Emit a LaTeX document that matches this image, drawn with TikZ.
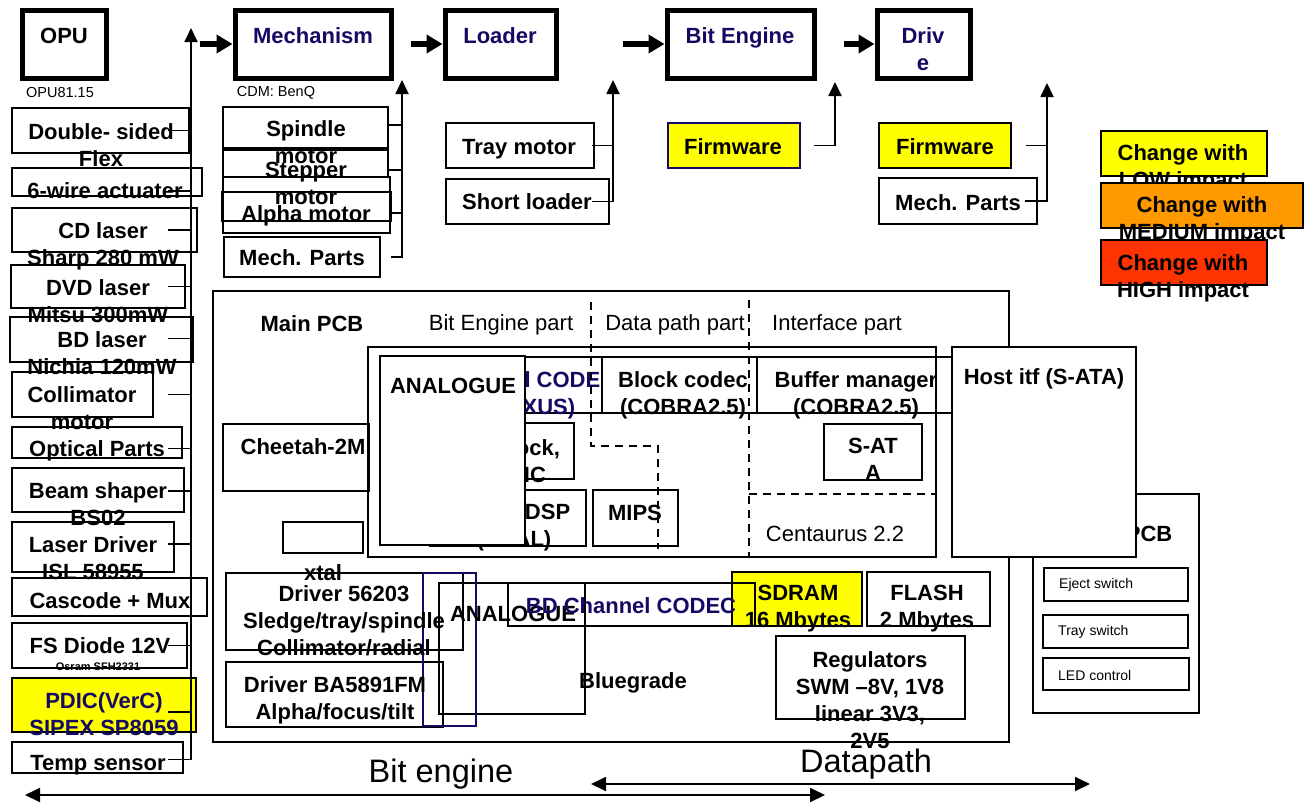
\documentclass[tikz,border=0pt]{standalone}
\usepackage{fontspec}
\setmainfont{Liberation Sans}
\usetikzlibrary{arrows.meta}
\usetikzlibrary{fit,calc}
\definecolor{navytxt}{RGB}{20,10,100}
\definecolor{lowimp}{RGB}{255,255,0}
\definecolor{medimp}{RGB}{255,153,0}
\definecolor{highimp}{RGB}{255,51,0}
\tikzstyle{box}=[draw, line width=1.8pt, inner sep=0pt]
\tikzstyle{heavybox}=[draw, line width=5pt, inner sep=0pt, fill=white]
\tikzstyle{lbl}=[anchor=north, inner sep=0pt, align=center, font=\fontsize{22}{27}\selectfont\bfseries, execute at begin node={\rule{0pt}{16pt}}]
\tikzstyle{reg}=[lbl, font=\fontsize{22}{27}\selectfont]
\tikzstyle{capt}=[inner sep=0pt, font=\fontsize{14.5}{17}\selectfont]
\tikzstyle{swlbl}=[anchor=west, inner sep=0pt, font=\fontsize{14}{17}\selectfont]
\tikzstyle{bigtxt}=[anchor=base, inner sep=0pt, font=\fontsize{32.5}{38}\selectfont]
\tikzstyle{stub}=[line width=1.8pt]
\tikzstyle{bus}=[line width=1.8pt, -{Triangle[length=14pt,width=13pt]}]
\tikzstyle{bigarrow}=[line width=6pt, -{Triangle[length=16pt,width=18pt]}]
\tikzstyle{spanarrow}=[line width=1.8pt, {Triangle[length=15pt,width=14pt]}-{Triangle[length=15pt,width=14pt]}]
\tikzstyle{partline}=[line width=1.8pt, dash pattern=on 8pt off 6pt]
\newcommand{\pbox}[4]{
	\node[#1, fit={#3 #4}] (#2) {};
}

\begin{document}
\begin{tikzpicture}[x=1pt, y=-1pt]
	\useasboundingbox (0,0) rectangle (1311,803);
	% top row
	\pbox{heavybox}{opu}{(22,10)}{(106,78)}
	\pbox{heavybox}{mech}{(235,10)}{(391,78)}
	\pbox{heavybox}{loader}{(445,10)}{(556,78)}
	\pbox{heavybox}{biteng}{(667,10)}{(814,78)}
	\pbox{heavybox}{drive}{(877,10)}{(970,78)}
	\node[lbl] (opu-t) at (64,27) {OPU};
	\node[lbl, text=navytxt] (mech-t) at (313,27) {Mechanism};
	\node[lbl, text=navytxt] (loader-t) at (500,27) {Loader};
	\node[lbl, text=navytxt] (biteng-t) at (740,27) {Bit Engine};
	\node[lbl, text=navytxt] (drive-t) at (923,27) {Driv\\e};
	\node[capt] (opu-c) at (60,93) {OPU81.15};
	\node[capt] (mech-c) at (276,93) {CDM: BenQ};
	\foreach \n/\d in {mech/33, loader/32, biteng/42, drive/31}
		\draw[bigarrow] ($(\n.west)+(-\d,0)$) -- (\n.west);
	\coordinate (opubus) at (191,28);
	\coordinate (mbus) at (402,80);
	\coordinate (lbus) at (613,80);
	\coordinate (bbus) at (835,82);
	\coordinate (dbus) at (1047,83);

	% OPU parts
	\pbox{box}{dsf}{(12,108)}{(189,153)}
	\node[lbl] (dsf-t) at (101,123) {Double- sided\\Flex};
	\pbox{box}{wire}{(12,168)}{(202,196)}
	\node[lbl] (wire-t) at (105,182) {6-wire actuater};
	\pbox{box}{cdl}{(12,208)}{(197,252)}
	\node[lbl] (cdl-t) at (103,222) {CD laser\\Sharp 280 mW};
	\pbox{box}{dvd}{(11,265)}{(185,308)}
	\node[lbl] (dvd-t) at (98,279) {DVD laser\\Mitsu 300mW};
	\pbox{box}{bdl}{(10,317)}{(193,362)}
	\node[lbl] (bdl-t) at (102,331) {BD laser\\Nichia 120mW};
	\pbox{box}{colm}{(12,372)}{(153,417)}
	\node[lbl] (colm-t) at (82,386) {Collimator\\motor};
	\pbox{box}{optp}{(12,427)}{(182,458)}
	\node[lbl] (optp-t) at (97,440) {Optical Parts};
	\pbox{box}{beam}{(12,468)}{(184,512)}
	\node[lbl] (beam-t) at (98,482) {Beam shaper\\BS02};
	\pbox{box}{ldrv}{(12,522)}{(174,572)}
	\node[lbl] (ldrv-t) at (93,536) {Laser Driver\\ISL 58955};
	\pbox{box}{casc}{(12,578)}{(207,616)}
	\node[lbl] (casc-t) at (110,592) {Cascode + Mux};
	\pbox{box}{fsd}{(12,623)}{(187,668)}
	\node[lbl] (fsd-t) at (100,637) {FS Diode 12V};
	\node[inner sep=0pt, font=\fontsize{11}{13}\selectfont\bfseries] (fsd-c) at (98,667) {Osram SFH2331};
	\pbox{box, fill=lowimp}{pdic}{(12,678)}{(196,732)}
	\node[lbl, text=navytxt] (pdic-t) at (104,692) {PDIC(VerC)\\SIPEX SP8059};
	\pbox{box}{temp}{(12,742)}{(183,773)}
	\node[lbl] (temp-t) at (98,754) {Temp sensor};
	\foreach \n/\dy in {dsf/0, wire/9, cdl/0, dvd/0, bdl/-1, colm/0, optp/6, beam/1, ldrv/-3, fsd/0, pdic/7}
		\draw[stub] ($(\n.center -| 168,0)+(0,\dy)$) -- ($(\n.center -| opubus)+(0,\dy)$);
	\draw[bus] ($(temp.center -| 168,0)+(0,2)$) -| (opubus);

	% mechanism parts
	\pbox{box}{spin}{(223,107)}{(388,148)}
	\pbox{box}{stepm}{(223,150)}{(388,177)}
	\pbox{box}{alpha}{(223,177)}{(390,233)}
	\pbox{box}{alphain}{(222,192)}{(391,221)}
	\pbox{box}{mparts}{(224,237)}{(380,277)}
	\node[lbl] (spin-t) at (306,120) {Spindle\\motor};
	\node[lbl] (stepm-t) at (306,162) {Stepper\\motor};
	\node[lbl] (alpha-t) at (306,205) {Alpha motor};
	\node[lbl] (mparts-t) at (302,249) {Mech. Parts};
	\foreach \n/\dy in {spin/-2.5, stepm/6.5, alphain/6.5}
		\draw[stub] ($(\n.east)+(0,\dy)$) -- ($(\n.east -| mbus)+(0,\dy)$);
	\draw[bus] ($(mparts.east)+(10,0)$) -| (mbus);

	% loader parts
	\pbox{box}{tray}{(446,123)}{(594,168)}
	\pbox{box}{sload}{(446,179)}{(609,224)}
	\node[lbl] (tray-t) at (519,138) {Tray motor};
	\node[lbl] (sload-t) at (527,193) {Short loader};
	\draw[stub] (tray.center -| 592,0) -- (tray.center -| lbus);
	\draw[bus] (sload.center -| 592,0) -| (lbus);

	% bit engine and drive parts
	\pbox{box, draw=navytxt, fill=lowimp}{fw1}{(668,123)}{(800,168)}
	\node[lbl] (fw1-t) at (733,138) {Firmware};
	\draw[bus] ($(fw1.east)+(13,0)$) -| (bbus);
	\pbox{box, fill=lowimp}{fw2}{(879,123)}{(1011,168)}
	\node[lbl] (fw2-t) at (945,138) {Firmware};
	\pbox{box}{mp2}{(879,178)}{(1037,224)}
	\node[lbl] (mp2-t) at (958,194) {Mech. Parts};
	\draw[stub] ($(fw2.east)+(14,0)$) -- (fw2.east -| dbus);
	\draw[bus] (mp2.center -| 1025,0) -| (dbus);

	% legend
	\pbox{box, fill=lowimp}{low}{(1101,131)}{(1267,176)}
	\node[lbl] (low-t) at (1183,144) {Change with\\LOW impact};
	\pbox{box, fill=medimp}{med}{(1101,183)}{(1303,228)}
	\node[lbl] (med-t) at (1202,196) {Change with\\MEDIUM impact};
	\pbox{box, fill=highimp}{high}{(1101,240)}{(1267,285)}
	\node[lbl] (high-t) at (1183,254) {Change with\\HIGH impact};

	% main PCB
	\pbox{box}{mainpcb}{(213,291)}{(1009,742)}
	\node[lbl] (mainpcb-t) at (312,315) {Main PCB};
	\node[reg] (bepart) at (501,314) {Bit Engine part};
	\node[reg] (dppart) at (675,314) {Data path part};
	\node[reg] (ifpart) at (837,314) {Interface part};
	\pbox{box}{frontpcb}{(1033,494)}{(1199,713)}
	\node[lbl] (frontpcb-t) at (1118,525) {Front PCB};
	\pbox{box}{eject}{(1044,568)}{(1188,601)}
	\node[swlbl] (eject-t) at (1059,585) {Eject switch};
	\pbox{box}{trays}{(1043,615)}{(1188,648)}
	\node[swlbl] (trays-t) at (1058,632) {Tray switch};
	\pbox{box}{ledc}{(1043,658)}{(1189,690)}
	\node[swlbl] (ledc-t) at (1058,675) {LED control};
	\pbox{box}{cheetah}{(223,424)}{(369,491)}
	\node[lbl] (cheetah-t) at (303,438) {Cheetah-2M};
	\pbox{box}{xtal}{(283,522)}{(363,553)}
	\node[lbl] (xtal-t) at (323,564) {xtal};

	% Centaurus
	\pbox{box}{centaurus}{(368,347)}{(936,557)}
	\pbox{box}{chcodec}{(455,357)}{(602,413)}
	\node[lbl, text=navytxt] (chcodec-t) at (530,371) {Channel CODEC\\(NEXUS)};
	\pbox{box, fill=white}{blkcodec}{(602,357)}{(757,413)}
	\node[lbl] (blkcodec-t) at (683,371) {Block codec\\(COBRA2.5)};
	\pbox{box}{bufman}{(757,357)}{(952,413)}
	\node[lbl] (bufman-t) at (856,371) {Buffer manager\\(COBRA2.5)};
	\pbox{box}{clock}{(470,423)}{(574,479)}
	\node[lbl] (clock-t) at (527,439) {Clock,\\UIC};
	\pbox{box}{dsp}{(430,490)}{(586,546)}
	\node[lbl] (dsp-t) at (514,504) {Servo DSP\\(REAL)};
	\pbox{box}{mips}{(593,490)}{(678,546)}
	\node[lbl] (mips-t) at (635,504) {MIPS};
	\pbox{box}{sata}{(824,424)}{(922,480)}
	\node[lbl] (sata-t) at (873,438) {S-AT\\A};
	\node[reg] (centaurus-t) at (835,525) {Centaurus 2.2};
	\draw[partline] (591,302) -- (591,446) -- (658,446) -- (658,549);
	\draw[partline] (749,300) -- (749,556);
	\draw[partline] (749,494) -- (936,494);
	\pbox{box, fill=white}{analog}{(380,356)}{(525,545)}
	\node[lbl] (analog-t) at (453,377) {ANALOGUE};
	\pbox{box, fill=white}{hostif}{(952,347)}{(1136,557)}
	\node[lbl] (hostif-t) at (1044,368) {Host itf (S-ATA)};

	% drivers, Bluegrade, memories
	\pbox{box}{drv1}{(226,573)}{(463,650)}
	\pbox{box}{drv2}{(226,662)}{(443,727)}
	\pbox{box}{bluegr}{(439,583)}{(585,714)}
	\pbox{box, fill=lowimp}{sdram}{(732,572)}{(862,626)}
	\pbox{box}{bdcodec}{(508,583)}{(755,626)}
	\pbox{box, draw=navytxt}{anabox}{(423,573)}{(476,726)}
	\pbox{box}{flash}{(867,572)}{(990,626)}
	\pbox{box}{regul}{(776,636)}{(965,719)}
	\node[lbl] (drv1-t) at (344,585) {Driver 56203\\Sledge/tray/spindle\\Collimator/radial};
	\node[lbl] (drv2-t) at (335,676) {Driver BA5891FM\\Alpha/focus/tilt};
	\node[lbl] (bluegr-a) at (513,605) {ANALOGUE};
	\node[lbl, text=navytxt] (bdcodec-t) at (631,597) {BD Channel CODEC};
	\node[lbl] (bluegr-t) at (633,672) {Bluegrade};
	\node[lbl] (sdram-t) at (798,585) {SDRAM\\16 Mbytes};
	\node[lbl] (flash-t) at (927,585) {FLASH\\2 Mbytes};
	\node[lbl] (regul-t) at (870,651) {Regulators\\SWM –8V, 1V8\\linear 3V3,\\2V5};

	% spans
	\coordinate (be-l) at (25,795);
	\coordinate (be-r) at (825,795);
	\coordinate (dp-l) at (591,784);
	\coordinate (dp-r) at (1090,784);
	\draw[spanarrow] (be-l) -- (be-r);
	\draw[spanarrow] (dp-l) -- (dp-r);
	\node[bigtxt] (be-t) at (441,782) {Bit engine};
	\node[bigtxt] (dp-t) at (866,772) {Datapath};
\end{tikzpicture}
\end{document}
